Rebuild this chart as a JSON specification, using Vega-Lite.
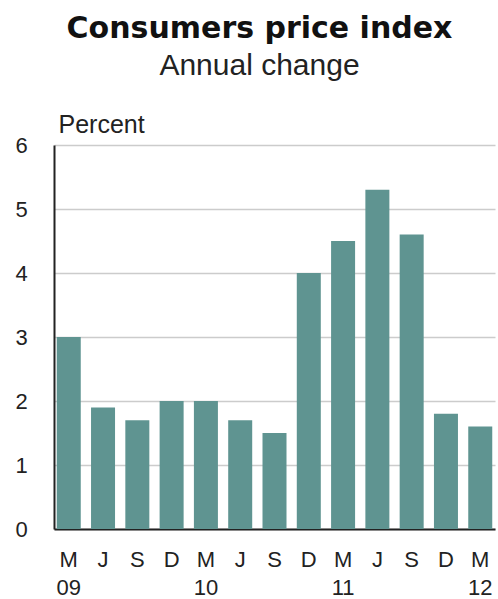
{
  "$schema": "https://vega.github.io/schema/vega-lite/v6.json",
  "autosize": "none",
  "width": 441,
  "height": 384,
  "padding": {"left": 54, "top": 145, "right": 3, "bottom": 70},
  "background": "white",
  "title": {
    "text": "Consumers price index",
    "subtitle": "Annual change",
    "anchor": "middle",
    "dx": -15,
    "offset": 31,
    "font": "DejaVu Sans",
    "fontSize": 30,
    "fontWeight": "bold",
    "color": "#111111",
    "subtitleFont": "Liberation Sans",
    "subtitleFontSize": 30,
    "subtitleColor": "#222222",
    "subtitlePadding": 7
  },
  "data": {
    "values": [
      {"period": "2009-03", "value": 3.0},
      {"period": "2009-06", "value": 1.9},
      {"period": "2009-09", "value": 1.7},
      {"period": "2009-12", "value": 2.0},
      {"period": "2010-03", "value": 2.0},
      {"period": "2010-06", "value": 1.7},
      {"period": "2010-09", "value": 1.5},
      {"period": "2010-12", "value": 4.0},
      {"period": "2011-03", "value": 4.5},
      {"period": "2011-06", "value": 5.3},
      {"period": "2011-09", "value": 4.6},
      {"period": "2011-12", "value": 1.8},
      {"period": "2012-03", "value": 1.6}
    ]
  },
  "mark": {"type": "bar", "color": "#5f9491"},
  "encoding": {
    "x": {
      "field": "period",
      "type": "ordinal",
      "sort": null,
      "scale": {"paddingInner": 0.3, "paddingOuter": 0.08},
      "axis": {
        "title": null,
        "labelAngle": 0,
        "ticks": false,
        "domainColor": "#222222",
        "domainWidth": 2,
        "labelFont": "Liberation Sans",
        "labelFontSize": 22,
        "labelColor": "#222222",
        "labelPadding": 20,
        "labelLineHeight": 28,
        "labelBaseline": "top",
        "labelExpr": "[{'03':'M','06':'J','09':'S','12':'D'}[slice(datum.value,5)], slice(datum.value,5)=='03' ? slice(datum.value,2,4) : '']"
      }
    },
    "y": {
      "field": "value",
      "type": "quantitative",
      "scale": {"domain": [0, 6], "nice": false},
      "axis": {
        "values": [0, 1, 2, 3, 4, 5, 6],
        "title": "Percent",
        "titleAngle": 0,
        "titleAlign": "left",
        "titleBaseline": "alphabetic",
        "titleX": 4,
        "titleY": -13,
        "titleFont": "Liberation Sans",
        "titleFontSize": 25,
        "titleFontWeight": "normal",
        "titleColor": "#222222",
        "ticks": false,
        "domainColor": "#222222",
        "domainWidth": 2,
        "gridColor": "#cccccc",
        "gridWidth": 1.5,
        "labelFont": "Liberation Sans",
        "labelFontSize": 22,
        "labelColor": "#222222",
        "labelPadding": 33,
        "labelAlign": "center"
      }
    }
  },
  "config": {"view": {"stroke": null}}
}
